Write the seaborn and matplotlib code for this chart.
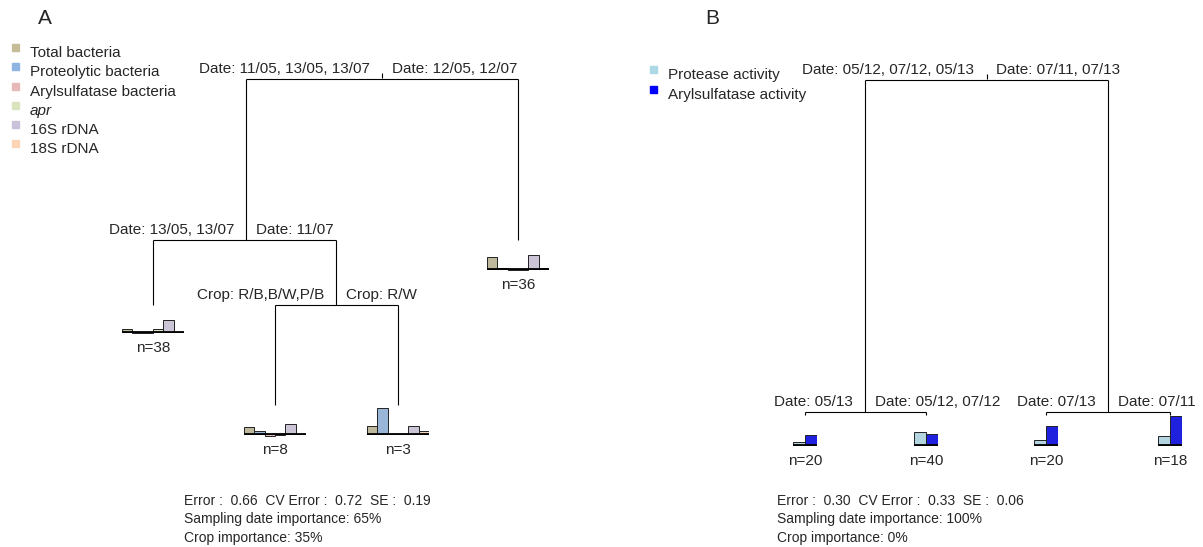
import numpy as np
import pandas as pd
import matplotlib
matplotlib.use("Agg")
import matplotlib.pyplot as plt
import seaborn as sns

# ---- data ----
vars_a = ['Total bacteria', 'Proteolytic bacteria', 'Arylsulfatase bacteria', 'apr', '16S rDNA', '18S rDNA']
colors_a = ['#C4BD97', '#8EB4E3', '#E6B9B8', '#D7E4BD', '#CCC1DA', '#FCD5B5']
vars_b = ['Protease activity', 'Arylsulfatase activity']
colors_b = ['#ADD8E6', '#0000FF']

# leaf means (relative units, ~1 unit = 1 px in the original)
leaf_a_n38 = [3, -1, -1, 3, 12, 0]
leaf_a_n8 = [7, 3, -2, -1, 10, 0]
leaf_a_n3 = [8, 26, 0, 0, 8, 3]
leaf_a_n36 = [12, 1, -1, -1, 14, 1]
leaf_b_n20a = [3, 10]
leaf_b_n40 = [13, 11]
leaf_b_n20b = [5, 19]
leaf_b_n18 = [9, 29]

splits_a = [('Date: 11/05, 13/05, 13/07', 'Date: 12/05, 12/07'),
            ('Date: 13/05, 13/07', 'Date: 11/07'),
            ('Crop: R/B,B/W,P/B', 'Crop: R/W')]
splits_b = [('Date: 05/12, 07/12, 05/13', 'Date: 07/11, 07/13'),
            ('Date: 05/13', 'Date: 05/12, 07/12'),
            ('Date: 07/13', 'Date: 07/11')]
stats_a = ['Error :  0.66  CV Error :  0.72  SE :  0.19',
           'Sampling date importance: 65%', 'Crop importance: 35%']
stats_b = ['Error :  0.30  CV Error :  0.33  SE :  0.06',
           'Sampling date importance: 100%', 'Crop importance: 0%']

W, H = 1203, 547
sns.set_style('white')
plt.rcParams['font.family'] = ['Liberation Sans', 'DejaVu Sans']
fig = plt.figure(figsize=(W / 100, H / 100), dpi=100)
ax = fig.add_axes([0, 0, 1, 1])
ax.set_xlim(0, W)
ax.set_ylim(H, 0)
ax.axis('off')
FS = 11


def line(xs, ys):
    ax.plot(xs, ys, color='black', lw=0.8, solid_capstyle='butt')


def split(x0, x1, y, labels, xm=None, tick=False):
    # horizontal connector with split labels above it
    if xm is None:
        xm = (x0 + x1) / 2
    line([x0, x1], [y, y])
    if tick:
        line([xm, xm], [y - 6, y - 1])
    ax.text(xm - 12, y - 3, labels[0], ha='right', va='bottom', fontsize=FS)
    ax.text(xm + 10, y - 3, labels[1], ha='left', va='bottom', fontsize=FS)


def leaf(xc, base, width, vals, colors, n, ymin=-6, ymax=32):
    # small barplot of node means, 1 unit = 1 px
    left = xc - width / 2
    bottom = H - base - (-ymin)
    iax = fig.add_axes([left / W, bottom / H, width / W, (ymax - ymin) / H])
    df = pd.DataFrame({'v': list(range(len(vals))), 'y': vals})
    sns.barplot(data=df, x='v', y='y', hue='v', palette=colors, legend=False,
                width=1.0, edgecolor='#222222', linewidth=0.7, ax=iax)
    iax.axhline(0, color='black', lw=1.3)
    iax.set_ylim(ymin, ymax)
    iax.set_xlim(-0.5, len(vals) - 0.5)
    iax.axis('off')
    ax.text(xc, base + 16, f'n={n}', ha='center', va='center', fontsize=FS)


def legend(x, ys, labels, colors):
    for y, lab, c in zip(ys, labels, colors):
        ax.add_patch(plt.Rectangle((x, y - 9), 7, 7, color=c))
        style = 'italic' if lab == 'apr' else 'normal'
        ax.text(x + 18, y, lab, ha='left', va='center', fontsize=FS, style=style)


# ---- panel A ----
ax.text(45, 19, 'A', ha='center', va='center', fontsize=15)
legend(12, [53, 72, 92, 111, 130, 149], vars_a, colors_a)
split(246, 518, 79, splits_a[0], xm=382, tick=True)
line([246, 246], [79, 240])
line([518, 518], [79, 240])
split(153, 336, 240, splits_a[1], xm=246)
line([153, 153], [240, 305])
line([336, 336], [240, 305])
split(275, 398, 305, splits_a[2], xm=336)
line([275, 275], [305, 405])
line([398, 398], [305, 405])
leaf(153, 332, 62, leaf_a_n38, colors_a, 38)
leaf(275, 434, 62, leaf_a_n8, colors_a, 8)
leaf(398, 434, 62, leaf_a_n3, colors_a, 3)
leaf(518, 269, 62, leaf_a_n36, colors_a, 36)
for i, s in enumerate(stats_a):
    ax.text(184, 501 + i * 18.5, s, ha='left', va='center', fontsize=10)

# ---- panel B ----
ax.text(712, 19, 'B', ha='center', va='center', fontsize=15)
legend(650, [75, 95], vars_b, colors_b)
split(865, 1108, 80, splits_b[0], tick=True)
line([865, 865], [80, 412])
line([1108, 1108], [80, 412])
split(805, 926, 412, splits_b[1], xm=865)
split(1046, 1170, 412, splits_b[2], xm=1108)
for x in [805, 926, 1046, 1170]:
    line([x, x], [412, 415])
leaf(805, 445, 24, leaf_b_n20a, colors_b, 20)
leaf(926, 445, 24, leaf_b_n40, colors_b, 40)
leaf(1046, 445, 24, leaf_b_n20b, colors_b, 20)
leaf(1170, 445, 24, leaf_b_n18, colors_b, 18)
for i, s in enumerate(stats_b):
    ax.text(777, 501 + i * 18.5, s, ha='left', va='center', fontsize=10)

fig.savefig('out.png', dpi=100)
